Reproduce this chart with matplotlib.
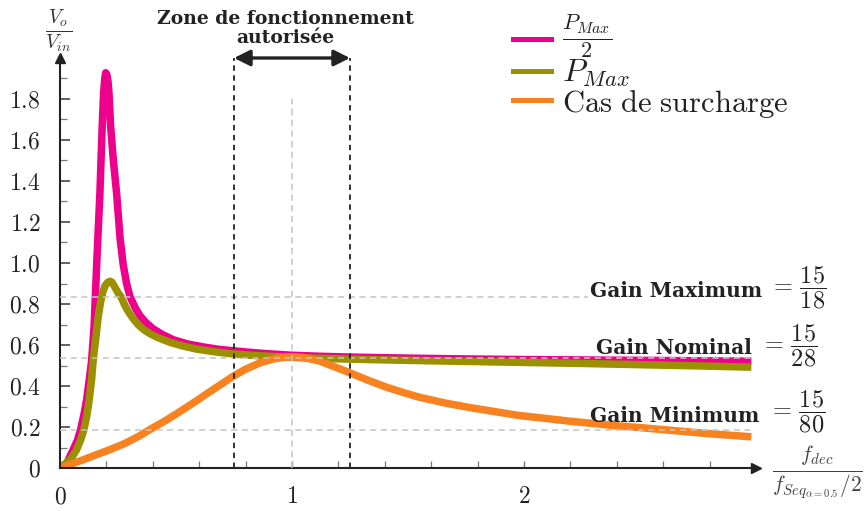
import numpy as np
import matplotlib
matplotlib.use('Agg')
import matplotlib.pyplot as plt
from matplotlib.lines import Line2D

plt.rcParams['mathtext.fontset'] = 'cm'
plt.rcParams['font.family'] = ['serif']
plt.rcParams['font.serif'] = ['cmr10', 'DejaVu Serif']

# données
x_pmax2 = [0, 0.03, 0.057, 0.075, 0.089, 0.103, 0.115, 0.126, 0.136, 0.147, 0.159, 0.172,
           0.182, 0.188, 0.193, 0.197, 0.202, 0.207, 0.211, 0.218, 0.23, 0.244, 0.259, 0.272,
           0.287, 0.302, 0.325, 0.345, 0.37, 0.40, 0.44, 0.49, 0.55, 0.62, 0.69, 0.8, 0.9,
           1.0, 1.12, 1.25, 1.5, 1.75, 2.0, 2.25, 2.5, 2.75, 2.98]
y_pmax2 = [0, 0.025, 0.09, 0.135, 0.188, 0.26, 0.334, 0.43, 0.52, 0.69, 1.017, 1.34,
           1.67, 1.83, 1.9, 1.928, 1.92, 1.885, 1.83, 1.67, 1.5, 1.34, 1.12, 0.995,
           0.9, 0.835, 0.78, 0.742, 0.71, 0.68, 0.652, 0.625, 0.605, 0.59, 0.578, 0.566, 0.557,
           0.55, 0.545, 0.541, 0.536, 0.532, 0.529, 0.527, 0.525, 0.523, 0.521]

x_pmax = [0, 0.029, 0.05, 0.072, 0.09, 0.103, 0.115, 0.126, 0.136, 0.144, 0.155, 0.165,
          0.175, 0.185, 0.195, 0.205, 0.216, 0.225, 0.235, 0.25, 0.263, 0.28, 0.295, 0.316,
          0.338, 0.36, 0.388, 0.42, 0.474, 0.53, 0.589, 0.66, 0.747, 0.85, 0.991, 1.12, 1.25,
          1.5, 1.75, 2.0, 2.25, 2.5, 2.75, 2.98]
y_pmax = [0, 0.025, 0.05, 0.09, 0.14, 0.188, 0.25, 0.334, 0.43, 0.537, 0.64, 0.74,
          0.81, 0.86, 0.89, 0.905, 0.911, 0.905, 0.885, 0.855, 0.835, 0.792, 0.762, 0.728,
          0.698, 0.676, 0.655, 0.637, 0.613, 0.595, 0.58, 0.568, 0.556, 0.548, 0.54, 0.535, 0.531,
          0.525, 0.52, 0.515, 0.51, 0.504, 0.498, 0.492]

x_surch = [0, 0.05, 0.1, 0.15, 0.216, 0.28, 0.34, 0.388, 0.45, 0.51, 0.575, 0.63, 0.69,
           0.747, 0.8, 0.862, 0.92, 0.96, 1.0, 1.05, 1.12, 1.18, 1.25, 1.33, 1.41, 1.48, 1.55,
           1.66, 1.77, 1.88, 1.98, 2.1, 2.2, 2.3, 2.385, 2.5, 2.6, 2.7, 2.8, 2.9, 2.98]
y_surch = [0, 0.02, 0.04, 0.062, 0.09, 0.12, 0.155, 0.188, 0.228, 0.27, 0.318, 0.36, 0.405,
           0.448, 0.482, 0.513, 0.532, 0.539, 0.542, 0.539, 0.521, 0.495, 0.464, 0.427, 0.393,
           0.368, 0.345, 0.317, 0.294, 0.274, 0.256, 0.241, 0.228, 0.217, 0.207, 0.197, 0.187,
           0.177, 0.167, 0.159, 0.152]

gains = [15/18, 15/28, 15/80]
gain_noms = ['Gain Maximum', 'Gain Nominal', 'Gain Minimum']
gain_fracs = [r'$=\,\dfrac{15}{18}$', r'$=\,\dfrac{15}{28}$', r'$=\,\dfrac{15}{80}$']
zone = [0.75, 1.25]

noms = [r'$\frac{P_{Max}}{2}$', r'$P_{Max}$', r'$\mathrm{Cas\ de\ surcharge}$']
couleurs = ['#ec008c', '#9a9000', '#f7821f']

W, H = 866, 511
fx = lambda px: px / W
fy = lambda py: 1 - py / H

fig = plt.figure(figsize=(W / 100, H / 100), dpi=100)
ax = fig.add_axes([fx(60), 43 / H, 696 / W, 410 / H])
ax.set_xlim(0, 3.0)
ax.set_ylim(0, 2.0)

lw = 5.4
for xs, ys, c in zip([x_pmax2, x_pmax, x_surch], [y_pmax2, y_pmax, y_surch], couleurs):
    ax.plot(xs, ys, color=c, lw=lw, solid_capstyle='butt', solid_joinstyle='round', zorder=2)

# lignes de gain
for g in gains:
    ax.plot([0, 2.98], [g, g], ls=(0, (4, 3)), color='#c4c4c4', lw=1.1, zorder=3)
ax.plot([1, 1], [0, 1.8], ls=(0, (4, 3)), color='#c4c4c4', lw=1.1, zorder=3)

# zone autorisée
for z in zone:
    ax.plot([z, z], [0, 2.0], ls=(0, (3, 2.5)), color='#222222', lw=1.3, zorder=4, clip_on=False)
ax.annotate('', xy=(zone[0], 2.0), xytext=(zone[1], 2.0),
            arrowprops=dict(arrowstyle='<|-|>', color='#222222', lw=2.4, mutation_scale=24,
                            shrinkA=0, shrinkB=0), annotation_clip=False)
fig.text(fx(285), fy(23.5), 'Zone de fonctionnement', ha='center', va='baseline',
         fontsize=13.5, fontfamily='DejaVu Serif', fontweight='bold', color='#222222')
fig.text(fx(285), fy(43), 'autorisée', ha='center', va='baseline',
         fontsize=13.5, fontfamily='DejaVu Serif', fontweight='bold', color='#222222')

# textes des gains
nom_right = [762, 752, 759]
nom_base = [296.5, 354, 421.5]
frac_left = [769, 760, 768]
frac_mid = [288, 346, 412]
for i in range(3):
    t = fig.text(fx(nom_right[i]), fy(nom_base[i]), gain_noms[i], ha='right', va='baseline',
                 fontsize=14.5, fontfamily='DejaVu Serif', fontweight='bold', color='#222222',
                 zorder=5)
    if i == 0:
        t.set_bbox(dict(facecolor='white', edgecolor='none', pad=1))
    fig.text(fx(frac_left[i]), fy(frac_mid[i]), gain_fracs[i], ha='left', va='center',
             fontsize=17.5, color='#222222')

# axes avec flèches
for s in ['top', 'right']:
    ax.spines[s].set_visible(False)
for s in ['left', 'bottom']:
    ax.spines[s].set_linewidth(1.5)
    ax.spines[s].set_color('#222222')
ax.plot(1, 0, '>', color='#222222', ms=7, transform=ax.get_yaxis_transform(), clip_on=False)
ax.plot(0, 1, '^', color='#222222', ms=7, transform=ax.get_xaxis_transform(), clip_on=False)

ax.set_yticks(np.arange(0, 1.81, 0.2))
ax.set_yticklabels(['$0$'] + ['$%.1f$' % v for v in np.arange(0.2, 1.81, 0.2)])
ax.set_yticks(np.arange(0.1, 1.95, 0.2), minor=True)
ax.set_xticks([0, 1, 2])
ax.set_xticklabels(['$0$', '$1$', '$2$'])
ax.set_xticks(np.arange(0.2, 2.95, 0.2), minor=True)
ax.tick_params(which='both', direction='in', colors='#777777', labelcolor='#222222',
               labelsize=17)
ax.tick_params(axis='y', which='major', length=7, width=1.3, colors='#555555',
               labelcolor='#222222', pad=14)
ax.tick_params(axis='y', which='minor', length=5, width=0.9)
ax.tick_params(axis='x', which='major', length=5, width=1.0, pad=13)
ax.tick_params(axis='x', which='minor', length=5, width=0.9)

fig.text(fx(59), fy(31), r'$\frac{V_o}{V_{in}}$', ha='center', va='center', fontsize=20,
         color='#333333')
fig.text(fx(817), fy(472), r'$\frac{f_{dec}}{f_{Seq_{\alpha=0.5}}/2}$', ha='center',
         va='center', fontsize=22, color='#444444')

# légende
leg_y = [39.5, 71.5, 100]
for i in range(3):
    fig.add_artist(Line2D([fx(513), fx(551)], [fy(leg_y[i])] * 2, color=couleurs[i], lw=3.6))
fig.text(fx(562), fy(36), noms[0], ha='left', va='center', fontsize=23, color='#222222')
fig.text(fx(562), fy(73.5), noms[1], ha='left', va='center', fontsize=23, color='#222222')
fig.text(fx(562), fy(111.5), noms[2], ha='left', va='baseline', fontsize=22, color='#222222')

fig.savefig('out.png', dpi=100)
